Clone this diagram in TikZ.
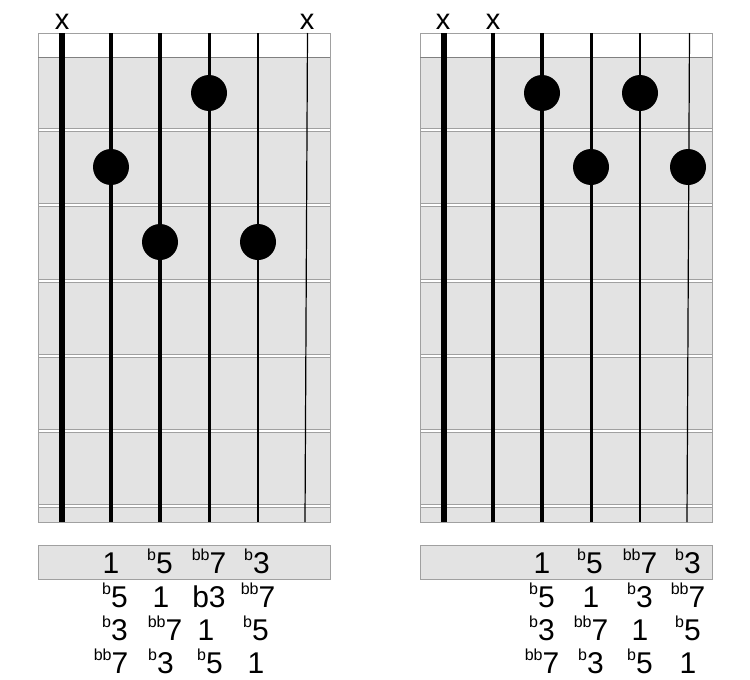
\documentclass[tikz,border=0pt]{standalone}
\usepackage{fontspec}
\setmainfont{Liberation Sans}
\newcommand\supflat[1]{\raisebox{13pt}{\fontsize{16pt}{16pt}\selectfont #1}}
\begin{document}
\begin{tikzpicture}[x=1pt,y=-1pt]
\useasboundingbox (0,0) rectangle (750,680);
\definecolor{fb}{HTML}{E3E3E3}
\definecolor{edgegray}{HTML}{A0A0A0}
\definecolor{nutgray}{HTML}{808080}
\tikzset{
  fretline/.style={draw=edgegray, line width=3.6pt},
  fretcore/.style={draw=white, line width=1.4pt},
  dot/.style={circle, fill=black, minimum size=36pt, inner sep=0pt},
  lbl/.style={anchor=base, inner sep=0pt, font=\fontsize{30pt}{30pt}\selectfont},
  mute/.style={anchor=base, inner sep=0pt, font=\fontsize{29pt}{29pt}\selectfont},
  lblbox/.style={draw=edgegray, fill=fb, line width=1pt},
}
% ---------- fretboards ----------
\foreach \ox in {0,382}{
  \begin{scope}[xshift=\ox pt]
    \fill[fb] (38,57) rectangle (330,522);
    \fill[white] (38,33) rectangle (330,57);
    \foreach \fy in {130,205,281,356,431,506}{
      \draw[fretline] (38,\fy) -- (330,\fy);
      \draw[fretcore] (38,\fy) -- (330,\fy);
    }
    \draw[edgegray, line width=1pt] (38,33) rectangle (330,522);
    \draw[nutgray, line width=1pt] (38,57) -- (330,57);
    \draw[line width=5.5pt] (62,33) -- (62,522);
    \draw[line width=4.6pt] (111,33) -- (111,522);
    \draw[line width=4pt] (160,33) -- (160,522);
    \draw[line width=3pt] (209,33) -- (209,522);
    \draw[line width=2.2pt] (258,33) -- (258,522);
    \draw[line width=1.2pt] (307.5,33) -- (305,522);
    \draw[lblbox] (38,545) rectangle (330,579);
  \end{scope}
}
% ---------- left diagram ----------
\node[mute] (xL1) at (62,29) {x};
\node[mute] (xL6) at (307,29) {x};
\node[dot] (dL4) at (209,93) {};
\node[dot] (dL2) at (111,167) {};
\node[dot] (dL3) at (160,242) {};
\node[dot] (dL5) at (258,242) {};
% rows
\node[lbl] (aL1) at (111,573) {1};
\node[lbl] (aL2) at (160,573) {\supflat{b}5};
\node[lbl] (aL3) at (209,573) {\supflat{bb}7};
\node[lbl] (aL4) at (257,573) {\supflat{b}3};
\node[lbl] (bL1) at (115,607) {\supflat{b}5};
\node[lbl] (bL2) at (161,607) {1};
\node[lbl] (bL3) at (209,607) {b3};
\node[lbl] (bL4) at (258,607) {\supflat{bb}7};
\node[lbl] (cL1) at (115,640) {\supflat{b}3};
\node[lbl] (cL2) at (165,640) {\supflat{bb}7};
\node[lbl] (cL3) at (206,640) {1};
\node[lbl] (cL4) at (256,640) {\supflat{b}5};
\node[lbl] (eL1) at (111,673) {\supflat{bb}7};
\node[lbl] (eL2) at (161,673) {\supflat{b}3};
\node[lbl] (eL3) at (210,673) {\supflat{b}5};
\node[lbl] (eL4) at (256,673) {1};
% ---------- right diagram ----------
\node[mute] (xR1) at (443,29) {x};
\node[mute] (xR2) at (493,29) {x};
\node[dot] (dR3) at (542,93) {};
\node[dot] (dR5) at (640,93) {};
\node[dot] (dR4) at (591,167) {};
\node[dot] (dR6) at (688,167) {};
% rows
\node[lbl] (aR1) at (542,573) {1};
\node[lbl] (aR2) at (590,573) {\supflat{b}5};
\node[lbl] (aR3) at (640,573) {\supflat{bb}7};
\node[lbl] (aR4) at (688,573) {\supflat{b}3};
\node[lbl] (bR1) at (542,607) {\supflat{b}5};
\node[lbl] (bR2) at (591,607) {1};
\node[lbl] (bR3) at (640,607) {\supflat{b}3};
\node[lbl] (bR4) at (688,607) {\supflat{bb}7};
\node[lbl] (cR1) at (542,640) {\supflat{b}3};
\node[lbl] (cR2) at (591,640) {\supflat{bb}7};
\node[lbl] (cR3) at (640,640) {1};
\node[lbl] (cR4) at (688,640) {\supflat{b}5};
\node[lbl] (eR1) at (542,673) {\supflat{bb}7};
\node[lbl] (eR2) at (591,673) {\supflat{b}3};
\node[lbl] (eR3) at (640,673) {\supflat{b}5};
\node[lbl] (eR4) at (688,673) {1};
\end{tikzpicture}
\end{document}
